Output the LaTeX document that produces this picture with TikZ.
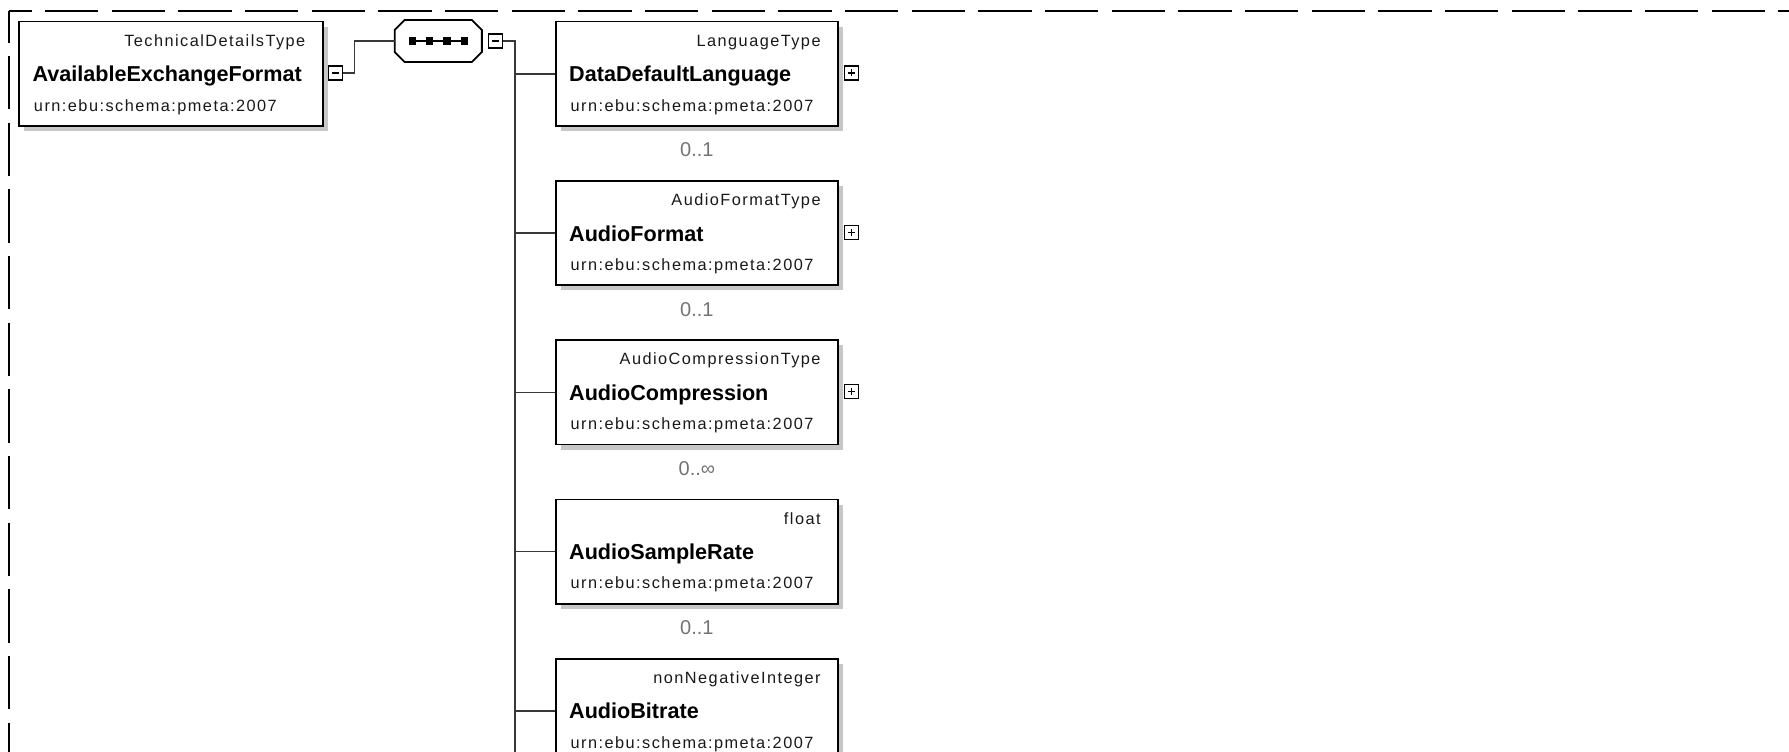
\documentclass[tikz,border=0pt]{standalone}
\usepackage{fontspec}
\setmainfont{Liberation Sans}
\newfontfamily\typefont[LetterSpace=9]{Liberation Sans}
\usetikzlibrary{calc,shadows}

% one schema element: name, x, top y, width, type, element name
\newcommand\xsdelem[6]{%
  \node[elembox, minimum width=#4pt] (#1) at (#2,#3) {};
  \node[typelbl, anchor=base east] (#1-type) at ($(#1.north east)+(-18,25.5)$) {#5};
  \node[namelbl, anchor=base west] (#1-name) at ($(#1.north west)+(14,61)$) {#6};
  \node[urnlbl, anchor=base west] (#1-urn) at ($(#1.north west)+(15.5,90.3)$) {urn:ebu:schema:pmeta:2007};
}

\begin{document}
\begin{tikzpicture}[x=1pt,y=-1pt,
  elembox/.style={draw=black, line width=1.8pt, fill=white, minimum height=104.3pt,
    inner sep=0pt, anchor=north west,
    general shadow={fill=black!22, shadow xshift=5pt, shadow yshift=-5pt}},
  typelbl/.style={inner sep=0pt, font=\typefont\fontsize{16.3}{19}\selectfont, text=black!90},
  namelbl/.style={inner sep=0pt, font=\bfseries\fontsize{21.6}{24}\selectfont},
  urnlbl/.style={inner sep=0pt, font=\typefont\fontsize{16.3}{19}\selectfont, text=black!90},
  mult/.style={inner sep=0pt, anchor=base, font=\fontsize{20}{24}\selectfont, text=black!55},
  toggle/.style={draw=black, line width=1.3pt, fill=white, minimum size=14pt, inner sep=0pt},
  minusbox/.style={toggle, path picture={
      \draw[line width=1.3pt] ([xshift=3.5pt]path picture bounding box.west) -- ([xshift=-3.5pt]path picture bounding box.east);}},
  plusbox/.style={toggle, path picture={
      \draw[line width=1.3pt] ([xshift=3.5pt]path picture bounding box.west) -- ([xshift=-3.5pt]path picture bounding box.east);
      \draw[line width=1.3pt] ([yshift=3.5pt]path picture bounding box.south) -- ([yshift=-3.5pt]path picture bounding box.north);}},
  conn/.style={draw=black!78, line width=1.6pt},
  frame/.style={draw=black, line width=2pt, dash pattern=on 53.33pt off 13.33pt}
]
\useasboundingbox (0,0) rectangle (1789,752);
\clip (0,0) rectangle (1789,752);

% dashed group frame
\coordinate (fc) at (8.5,11);
\coordinate (fr) at (1800,11);
\coordinate (fb) at (8.5,770);
\draw[frame, dash phase=30pt] (fc) -- (fr);
\draw[frame, dash phase=21.6pt] (fc) -- (fb);

% parent element
\xsdelem{root}{18.3}{20.7}{303.4}{TechnicalDetailsType}{AvailableExchangeFormat}
\node[minusbox] (rootm) at (335.5,73) {};

% sequence compositor
\node[minimum width=86.7pt, minimum height=41.7pt, inner sep=0pt] (seq) at (438.3,41) {};
\fill[black!22, shift={(5,5)}]
  ([xshift=10pt]seq.north west) -- ([xshift=-10pt]seq.north east) -- ([yshift=-10pt]seq.north east)
  -- ([yshift=10pt]seq.south east) -- ([xshift=-10pt]seq.south east) -- ([xshift=10pt]seq.south west)
  -- ([yshift=10pt]seq.south west) -- ([yshift=-10pt]seq.north west) -- cycle;
\draw[line width=1.8pt, fill=white]
  ([xshift=10pt]seq.north west) -- ([xshift=-10pt]seq.north east) -- ([yshift=-10pt]seq.north east)
  -- ([yshift=10pt]seq.south east) -- ([xshift=-10pt]seq.south east) -- ([xshift=10pt]seq.south west)
  -- ([yshift=10pt]seq.south west) -- ([yshift=-10pt]seq.north west) -- cycle;
\draw[line width=2pt] ($(seq.center)+(-26.1,0)$) -- ($(seq.center)+(26.1,0)$);
\foreach \dx in {-26.1,-8.7,8.7,26.1}
  \fill ($(seq.center)+(\dx-3.6,-3.6)$) rectangle ($(seq.center)+(\dx+3.6,3.6)$);
\node[minusbox] (seqm) at (495.5,41) {};

\draw[conn] (rootm.east) -- ++(11.5,0) |- (seq.west);

% children of the sequence
\coordinate (busend) at (515,770);
\draw[conn] (seqm.east) -| (busend);

\xsdelem{b1}{555}{20.7}{282}{LanguageType}{DataDefaultLanguage}
\xsdelem{b2}{555}{180.0}{282}{AudioFormatType}{AudioFormat}
\xsdelem{b3}{555}{339.3}{282}{AudioCompressionType}{AudioCompression}
\xsdelem{b4}{555}{498.6}{282}{float}{AudioSampleRate}
\xsdelem{b5}{555}{657.9}{282}{nonNegativeInteger}{AudioBitrate}

\foreach \b in {b1,b2,b3,b4,b5}
  \draw[conn] (\b.west) -- (\b.west -| busend);

\node[plusbox] (b1p) at (851.5,72.9) {};
\node[plusbox] (b2p) at (851.5,232.2) {};
\node[plusbox] (b3p) at (851.5,391.5) {};

\node[mult] (b1-mult) at ($(b1.south)+(0,30)$) {0..1};
\node[mult] (b2-mult) at ($(b2.south)+(0,30)$) {0..1};
\node[mult] (b3-mult) at ($(b3.south)+(0,30)$) {0..∞};
\node[mult] (b4-mult) at ($(b4.south)+(0,30)$) {0..1};
\end{tikzpicture}
\end{document}
